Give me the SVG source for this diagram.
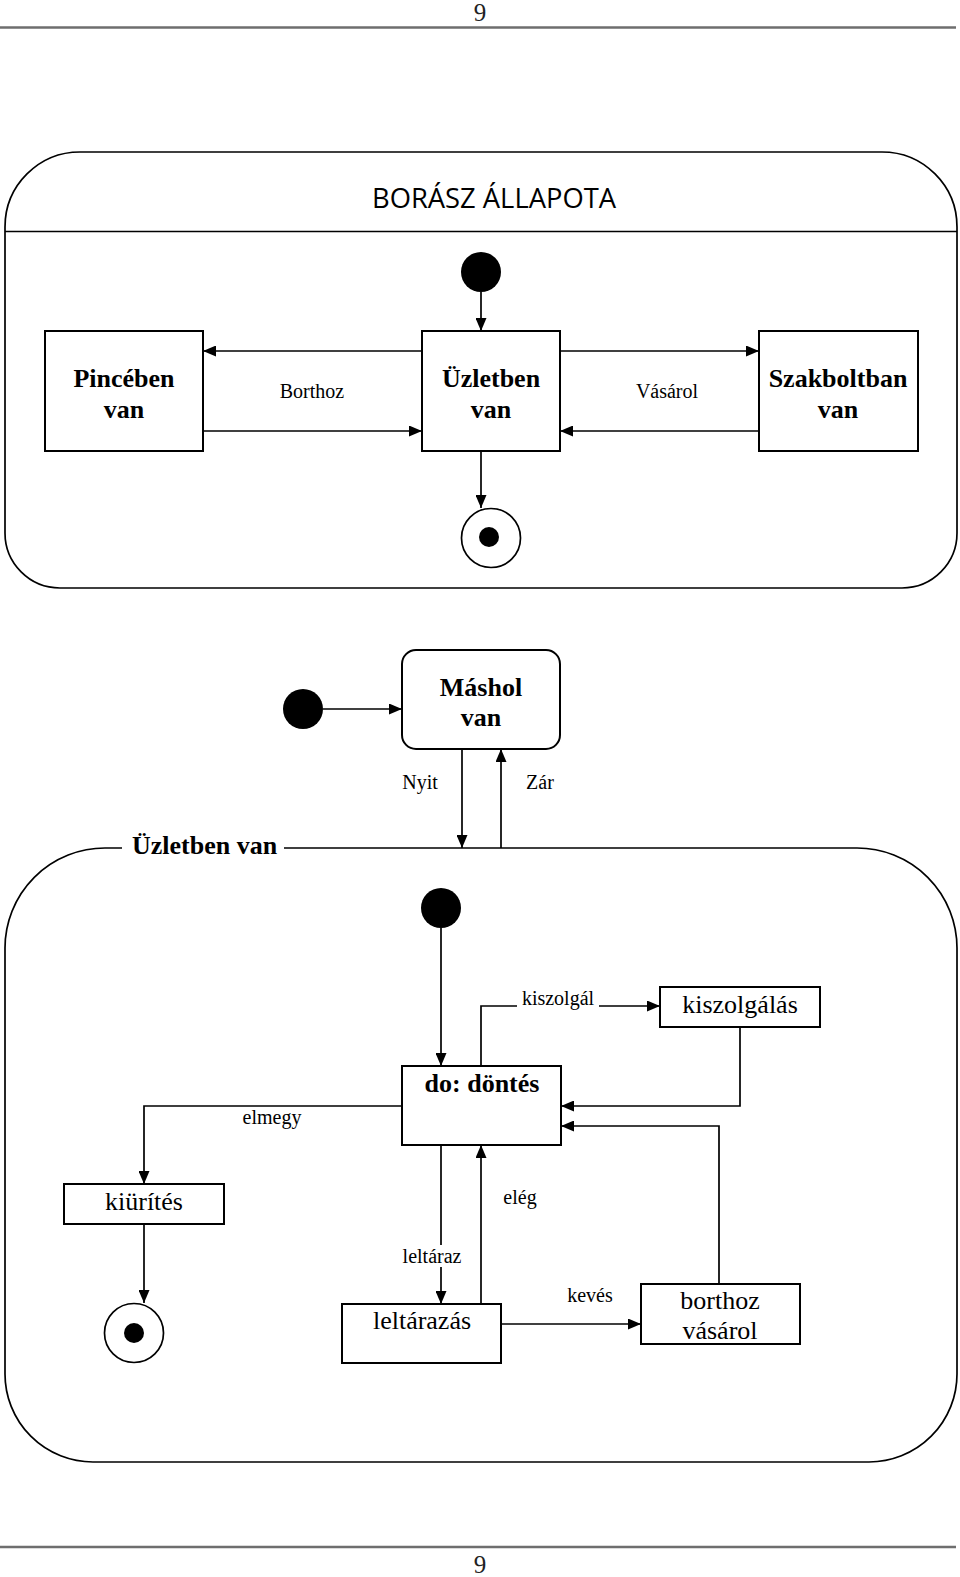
<svg xmlns="http://www.w3.org/2000/svg" width="960" height="1577" viewBox="0 0 960 1577">
<style>
.box{fill:#fff;stroke:#000;stroke-width:2}
.ln{fill:none;stroke:#000;stroke-width:1.7}
.ar{fill:none;stroke:#000;stroke-width:1.7;marker-end:url(#arr)}
.b{font-family:"Liberation Serif",serif;font-weight:bold;font-size:26px;text-anchor:middle}
.r{font-family:"Liberation Serif",serif;font-size:26px;text-anchor:middle}
.lab{font-family:"Liberation Serif",serif;font-size:20px;text-anchor:middle}
.pg{font-family:"Liberation Serif",serif;font-size:25px;text-anchor:middle;fill:#222}
.dot{fill:#000}
</style>
<defs>
<marker id="arr" viewBox="0 0 13 11" refX="13" refY="5.5" markerWidth="13" markerHeight="11" markerUnits="userSpaceOnUse" orient="auto"><path d="M0,0 L13,5.5 L0,11 z" fill="#000"/></marker>
</defs>
<rect width="960" height="1577" fill="#fff"/>
<g id="page">
<text class="pg" x="480" y="21">9</text>
<line x1="0" y1="27.5" x2="956" y2="27.5" stroke="#6e6e6e" stroke-width="2.5"/>
<line x1="0" y1="1547" x2="956" y2="1547" stroke="#6e6e6e" stroke-width="2.5"/>
<text class="pg" x="480" y="1573">9</text>
</g>
<g id="borasz">
<path class="ln" stroke-width="2" d="M80,152 H882 A75,75 0 0 1 957,227 V533 A55,55 0 0 1 902,588 H60 A55,55 0 0 1 5,533 V227 A75,75 0 0 1 80,152 Z"/>
<line class="ln" x1="5" y1="231.5" x2="957" y2="231.5" stroke-width="2"/>
<text x="372" y="208" font-family="Open Sans, sans-serif" font-size="27" textLength="244" lengthAdjust="spacingAndGlyphs">BORÁSZ ÁLLAPOTA</text>
</g>
<g id="init1"><circle class="dot" cx="481" cy="272" r="20"/></g>
<g id="pinceben"><rect class="box" x="45" y="331" width="158" height="120"/><text class="b" x="124" y="387">Pincében</text><text class="b" x="124" y="418">van</text></g>
<g id="uzletben"><rect class="box" x="422" y="331" width="138" height="120"/><text class="b" x="491" y="387">Üzletben</text><text class="b" x="491" y="418">van</text></g>
<g id="szakbolt"><rect class="box" x="759" y="331" width="159" height="120"/><text class="b" x="838" y="387">Szakboltban</text><text class="b" x="838" y="418">van</text></g>
<g id="final1"><circle cx="491" cy="538" r="29.5" fill="#fff" stroke="#000" stroke-width="1.7"/><circle class="dot" cx="489" cy="537" r="10"/></g>
<g id="init2"><circle class="dot" cx="303" cy="709" r="20"/></g>
<g id="mashol"><rect class="box" x="402" y="650" width="158" height="99" rx="14"/><text class="b" x="481" y="696">Máshol</text><text class="b" x="481" y="726">van</text></g>
<g id="uzletben-van">
<path class="ln" stroke-width="2" d="M105,848 H857 A100,100 0 0 1 957,948 V1374 A88,88 0 0 1 869,1462 H93 A88,88 0 0 1 5,1374 V948 A100,100 0 0 1 105,848 Z"/>
<rect x="122" y="838" width="162" height="16" fill="#fff"/>
<text x="132" y="854" font-family="Liberation Serif, serif" font-weight="bold" font-size="26">Üzletben van</text>
</g>
<g id="init3"><circle class="dot" cx="441" cy="908" r="20"/></g>
<g id="dontes"><rect class="box" x="402" y="1066" width="159" height="79"/><text class="b" x="482" y="1092">do: döntés</text></g>
<g id="kiszolgalas"><rect class="box" x="660" y="987" width="160" height="40"/><text class="r" x="740" y="1013">kiszolgálás</text></g>
<g id="kiurites"><rect class="box" x="64" y="1184" width="160" height="40"/><text class="r" x="144" y="1210">kiürítés</text></g>
<g id="final2"><circle cx="134" cy="1333" r="29.5" fill="#fff" stroke="#000" stroke-width="1.7"/><circle class="dot" cx="134" cy="1333" r="10"/></g>
<g id="leltarazas"><rect class="box" x="342" y="1304" width="159" height="59"/><text class="r" x="422" y="1329">leltárazás</text></g>
<g id="borthoz-vasarol"><rect class="box" x="641" y="1284" width="159" height="60"/><text class="r" x="720" y="1309">borthoz</text><text class="r" x="720" y="1339">vásárol</text></g>
<g id="connectors">
<path class="ar" d="M481,292 V331"/>
<path class="ar" d="M422,351 H203"/>
<path class="ar" d="M560,351 H759"/>
<path class="ar" d="M203,431 H422"/>
<path class="ar" d="M759,431 H560"/>
<path class="ar" d="M481,451 V508"/>
<text class="lab" x="312" y="398">Borthoz</text>
<text class="lab" x="667" y="398">Vásárol</text>
<path class="ar" d="M323,709 H402"/>
<path class="ar" d="M462,749 V848"/>
<path class="ar" d="M501,848 V749"/>
<text class="lab" x="420" y="789">Nyit</text>
<text class="lab" x="540" y="789">Zár</text>
<path class="ar" d="M441,928 V1066"/>
<path class="ar" d="M481,1066 V1006 H660"/>
<rect x="517" y="990" width="82" height="22" fill="#fff"/>
<text class="lab" x="558" y="1005">kiszolgál</text>
<path class="ar" d="M740,1027 V1106 H561"/>
<path class="ar" d="M719,1284 V1126 H561"/>
<path class="ar" d="M402,1106 H144 V1184"/>
<text class="lab" x="272" y="1124">elmegy</text>
<path class="ar" d="M144,1224 V1303"/>
<path class="ar" d="M441,1145 V1304"/>
<rect x="402" y="1245" width="60" height="22" fill="#fff"/>
<text class="lab" x="432" y="1263">leltáraz</text>
<path class="ar" d="M481,1304 V1145"/>
<text class="lab" x="520" y="1204">elég</text>
<path class="ar" d="M501,1324 H641"/>
<text class="lab" x="590" y="1302">kevés</text>
</g>
</svg>
